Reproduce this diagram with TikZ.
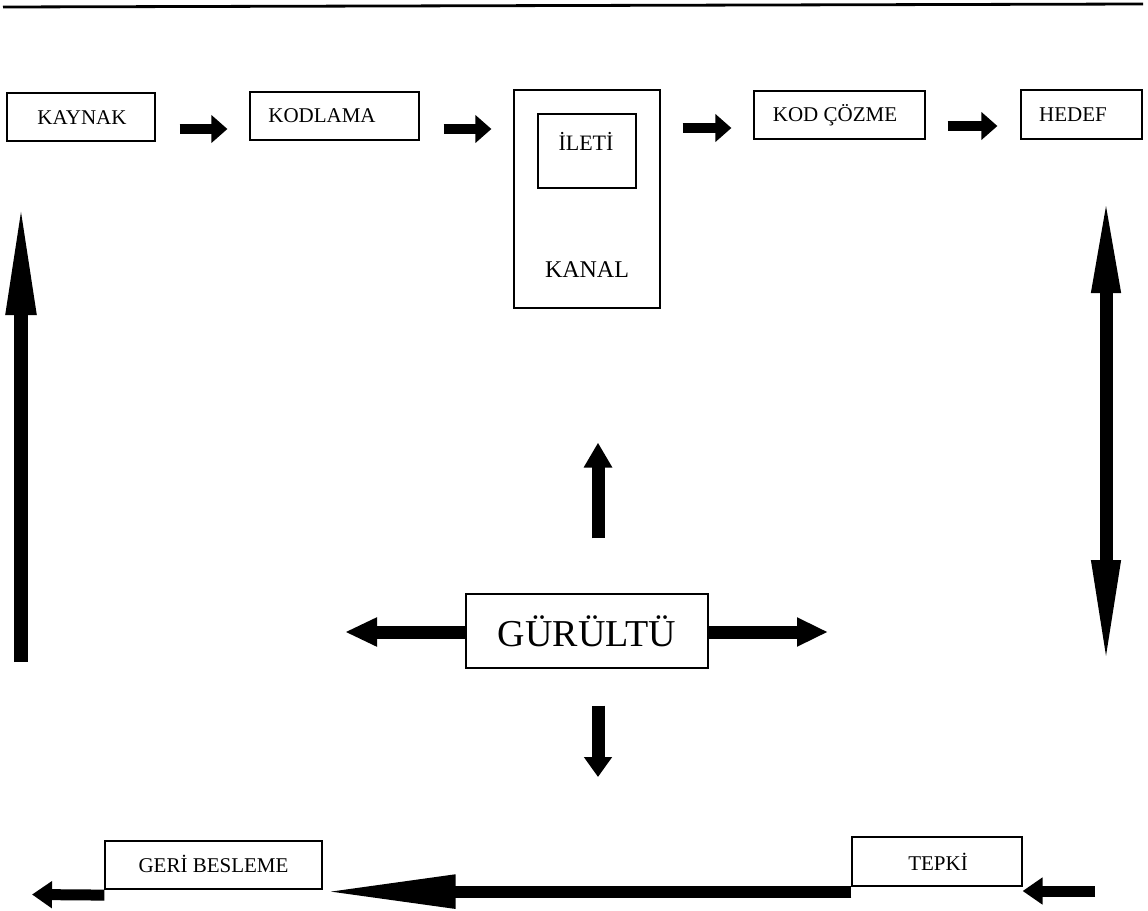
\documentclass[tikz,border=0pt]{standalone}
\usepackage{fontspec}
\setmainfont{Liberation Serif}
\usetikzlibrary{arrows.meta}
\begin{document}
\begin{tikzpicture}[x=1pt,y=-1pt,
  box/.style={draw, line width=1.2pt, inner sep=0pt},
  lbl/.style={inner sep=0pt, font=\fontsize{21}{24}\selectfont},
  midlbl/.style={inner sep=0pt, font=\fontsize{22}{25}\selectfont},
  biglbl/.style={inner sep=0pt, font=\fontsize{24}{27}\selectfont},
  hugelbl/.style={inner sep=0pt, font=\fontsize{38}{42}\selectfont},
  tfat/.style={line width=10.5pt, -{Triangle[width=27pt,length=16pt]}},
  nfat/.style={line width=13pt, -{Triangle[width=27pt,length=#1]}},
  bfat/.style={line width=11pt, -{Triangle[width=26pt,length=20pt]}},
  rule/.style={line width=2.8pt}
]
\useasboundingbox (0,0) rectangle (1148,910);

% top rule
\coordinate (rl) at (3,7);
\coordinate (rr) at (1143,4);
\draw[rule] (rl) -- (rr);

% top row boxes
\node[box, minimum width=148pt, minimum height=48pt] (kaynak) at (81,117) {};
\node[lbl] (kaynakt) at (82,118) {KAYNAK};
\node[box, minimum width=169pt, minimum height=48pt] (kodlama) at (334.5,116) {};
\node[lbl] (kodlamat) at (322,116) {KODLAMA};
\node[box, minimum width=146pt, minimum height=218pt] (kanal) at (587,199) {};
\node[box, minimum width=98pt, minimum height=74pt] (ileti) at (587,151) {};
\node[midlbl] (iletit) at (586,141) {İLETİ};
\node[biglbl] (kanalt) at (587,270) {KANAL};
\node[box, minimum width=171pt, minimum height=48pt] (kodcozme) at (839.5,115) {};
\node[lbl] (kodcozmet) at (835,115) {KOD ÇÖZME};
\node[box, minimum width=121pt, minimum height=49pt] (hedef) at (1081.5,114.5) {};
\node[lbl] (hedeft) at (1073,115) {HEDEF};

% top arrows
\draw[tfat] ([xshift=24pt,yshift=-12pt]kaynak.east) -- ([xshift=-22pt,yshift=-13pt]kodlama.west);
\draw[tfat] ([xshift=24pt,yshift=-13pt]kodlama.east) -- ([xshift=-22pt,yshift=70pt]kanal.west);
\draw[tfat] ([xshift=22pt,yshift=71pt]kanal.east) -- ([xshift=-22pt,yshift=-13pt]kodcozme.west);
\draw[tfat] ([xshift=22pt,yshift=-11pt]kodcozme.east) -- ([xshift=-23pt,yshift=-11.5pt]hedef.west);

% side arrows
\coordinate (lbot) at (21,662);
\coordinate (ltop) at (21,196);
\draw[line width=14pt, -{Triangle[width=27pt,length=119pt]}] (lbot) -- (ltop);
\coordinate (rtop) at (1106,194);
\coordinate (rbot) at (1106,669);
\draw[line width=13pt, {Triangle[width=26pt,length=99pt]}-{Triangle[width=26pt,length=109pt]}] (rtop) -- (rbot);

% noise
\node[box, minimum width=242pt, minimum height=74pt] (gurultu) at (587,631) {};
\node[hugelbl] (gurultut) at (587,631) {GÜRÜLTÜ};
\draw[nfat=25pt] ([xshift=11pt,yshift=55pt]gurultu.north) -- ([xshift=11pt,yshift=-134pt]kanal.south);
\coordinate (ndown) at (598,777);
\draw[nfat=20pt] ([xshift=11pt,yshift=-37pt]gurultu.south) -- (ndown);
\coordinate (nleft) at (345,632);
\draw[nfat=32pt] ([yshift=-1pt]gurultu.west) -- (nleft);
\coordinate (nright) at (828,632);
\draw[nfat=31pt] ([yshift=-1pt]gurultu.east) -- (nright);

% bottom row
\node[box, minimum width=217pt, minimum height=48pt] (geri) at (213.5,865) {};
\node[lbl] (gerit) at (213.5,864) {GERİ BESLEME};
\node[box, minimum width=170pt, minimum height=49pt] (tepki) at (937,861.5) {};
\node[lbl] (tepkit) at (938,862) {TEPKİ};

\coordinate (bin) at (1095,891);
\draw[bfat] (bin) -- ([yshift=-29.5pt]tepki.east);
\draw[line width=12pt, -{Triangle[width=31pt,length=133pt]}] ([yshift=-5pt]tepki.south west) -- ([yshift=-2pt]geri.south east);
\coordinate (bout) at (32,894.5);
\draw[bfat] ([yshift=-5.5pt]geri.south west) -- (bout);
\end{tikzpicture}
\end{document}
